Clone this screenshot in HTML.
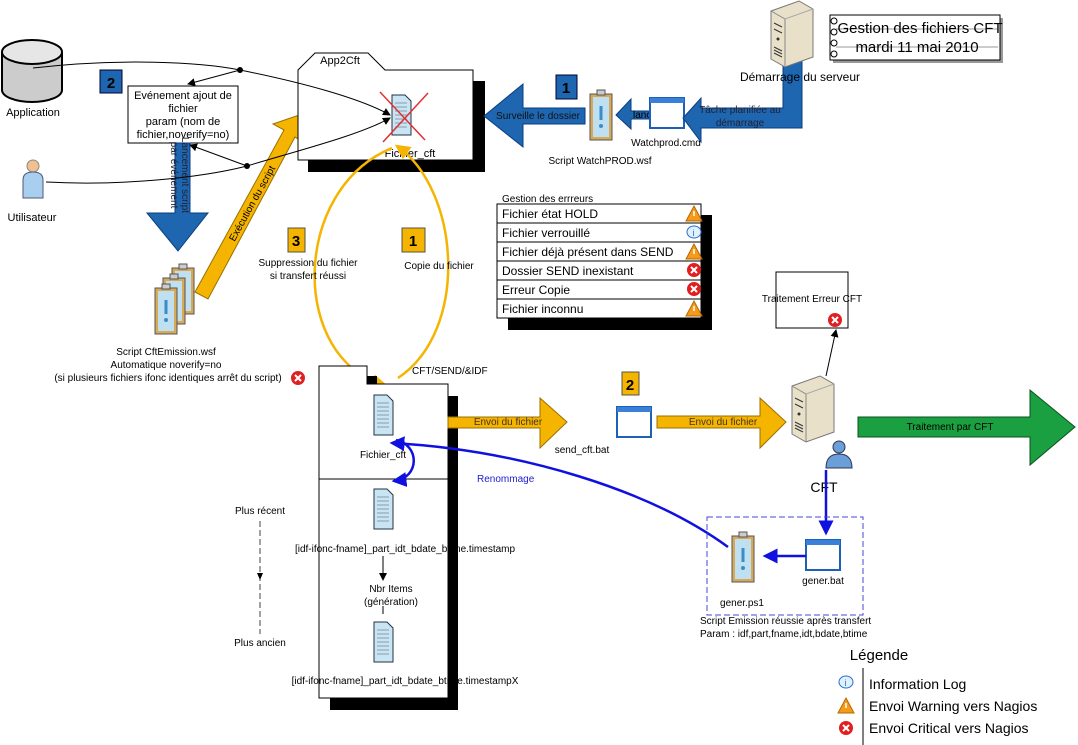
<!DOCTYPE html>
<html><head><meta charset="utf-8"><style>html,body{margin:0;padding:0;background:#fff}svg{display:block}text{font-family:"Liberation Sans",sans-serif;fill:#000}</style></head><body>
<svg width="1078" height="745" viewBox="0 0 1078 745" xmlns="http://www.w3.org/2000/svg">
<defs>
<marker id="ab" markerWidth="8" markerHeight="8" refX="7" refY="4" orient="auto"><path d="M0,0L8,4L0,8z" fill="#000"/></marker>
<marker id="abl" markerWidth="6" markerHeight="6" refX="5" refY="3" orient="auto"><path d="M0,0L6,3L0,6z" fill="#1010e0"/></marker>
<marker id="ay" markerWidth="6" markerHeight="6" refX="5" refY="3" orient="auto"><path d="M0,0L6,3L0,6z" fill="#f4b400"/></marker>
<g id="doc"><path d="M0,0h13l6,6v34h-19z" fill="#c9e4f2" stroke="#234" stroke-width="1"/><path d="M3,8h12M3,12h12M3,16h12M3,20h12M3,24h12M3,28h12M3,32h12" stroke="#456" stroke-width="0.6"/></g>
<g id="clip"><rect x="0" y="6" width="22" height="46" fill="#d9a95a" stroke="#555"/><rect x="3" y="9" width="16" height="40" fill="#bfe0f0"/><path d="M7,7v-5h8v5z" fill="#ccc" stroke="#555"/><rect x="9.5" y="18" width="3" height="14" fill="#3a8dc8"/><circle cx="11" cy="38" r="2" fill="#3a8dc8"/></g>
<g id="win"><rect x="0" y="0" width="34" height="30" fill="#fff" stroke="#1e5fb8" stroke-width="2"/><rect x="0" y="0" width="34" height="5" fill="#3a7fd8"/></g>
<g id="xr"><circle cx="0" cy="0" r="7" fill="#e02020"/><path d="M-3,-3L3,3M3,-3L-3,3" stroke="#fff" stroke-width="2"/></g>
<g id="wa"><path d="M0,-8L8,7H-8z" fill="#f59a1a" stroke="#b36a00"/><path d="M0,-3v5" stroke="#fff" stroke-width="1.5"/></g>
<g id="inf"><ellipse cx="0" cy="0" rx="7" ry="6" fill="#dff0ff" stroke="#2a6fc8"/><text x="-1.5" y="4" font-size="9" style="fill:#2a6fc8">i</text></g>
<g id="srv"><path d="M0,10L28,0L42,8V56L14,66L0,58z" fill="#e8e0c8" stroke="#777"/><path d="M0,10L14,18V66" fill="none" stroke="#888"/><path d="M14,18L42,8" stroke="#aaa" fill="none"/><path d="M3,22L11,26M3,28L11,32M3,46L11,50M3,49L11,53M3,52L11,56" stroke="#333"/><circle cx="7" cy="38" r="1.5" fill="#333"/></g>
</defs>

<!-- Application cylinder -->
<path d="M2,52v38a30,12 0 0 0 60,0v-38" fill="#ccc" stroke="#000" stroke-width="2"/>
<ellipse cx="32" cy="52" rx="30" ry="12" fill="#e6e6e6" stroke="#000" stroke-width="2"/>
<text x="33" y="116" font-size="11" text-anchor="middle">Application</text>
<!-- user -->
<circle cx="33" cy="166" r="6" fill="#f0c090" stroke="#888"/>
<path d="M23,198v-18q0,-8 10,-8q10,0 10,8v18z" fill="#a8d0ee" stroke="#557"/>
<text x="32" y="221" font-size="11" text-anchor="middle">Utilisateur</text>

<rect x="100" y="70" width="22" height="23" fill="#1e66b0" stroke="#003"/>
<text x="111" y="88" font-size="15" font-weight="bold" text-anchor="middle">2</text>
<rect x="128" y="86" width="110" height="57" fill="#fff" stroke="#000"/>
<text font-size="11" text-anchor="middle"><tspan x="183" y="99">Evénement ajout de</tspan><tspan x="183" y="112">fichier</tspan><tspan x="183" y="125">param (nom de</tspan><tspan x="183" y="138">fichier,noverify=no)</tspan></text>

<!-- blue down arrow -->
<path d="M175,143h15v70h18l-30,38l-31,-38h28z" fill="#1e66b0" stroke="#0b3d80"/>
<text transform="translate(180,175) rotate(90)" font-size="10" text-anchor="middle" style="fill:#223"><tspan x="0" y="-2">Lancement script</tspan><tspan x="0" y="9">par événement</tspan></text>

<!-- yellow exec arrow -->
<path d="M195,292L284,130L273,124L302,114L305,144L295,137L208,299z" fill="#f4b400" stroke="#9a7000"/>
<text transform="translate(255,205) rotate(-61)" font-size="10" text-anchor="middle">Exécution du script</text>

<use href="#clip" x="172" y="262"/><use href="#clip" x="163" y="272"/><use href="#clip" x="155" y="282"/>
<text font-size="10" text-anchor="middle"><tspan x="166" y="355">Script CftEmission.wsf</tspan><tspan x="166" y="368">Automatique noverify=no</tspan><tspan x="168" y="381">(si plusieurs fichiers ifonc identiques arrêt du script)</tspan></text>
<use href="#xr" x="298" y="378"/>

<!-- App2Cft folder -->
<rect x="308" y="81" width="177" height="91" fill="#000"/>
<path d="M298,70L315,53H368L385,70H473V160H298z" fill="#fff" stroke="#000"/>
<text x="340" y="64" font-size="11" text-anchor="middle">App2Cft</text>
<use href="#doc" x="392" y="95"/>
<path d="M380,92L425,140M428,93L383,142" stroke="#e03030" stroke-width="1.5"/>
<text x="410" y="157" font-size="11" text-anchor="middle">Fichier_cft</text>

<!-- connectors -->
<path d="M33,68 C120,58 200,62 240,70 C300,82 360,98 390,115" fill="none" stroke="#000" marker-end="url(#ab)"/>
<path d="M240,70L188,84" stroke="#000" marker-end="url(#ab)"/>
<circle cx="240" cy="70" r="3"/>
<path d="M46,182 C120,186 200,178 247,166 C300,150 360,135 390,118" fill="none" stroke="#000" marker-end="url(#ab)"/>
<path d="M247,166L190,145" stroke="#000" marker-end="url(#ab)"/>
<circle cx="247" cy="166" r="3"/>

<!-- surveille blue arrow -->
<path d="M585,108V124H523L523,147L484,116L523,84V108z" fill="#1e66b0" stroke="#0b3d80"/>
<text x="538" y="119" font-size="10" text-anchor="middle" style="fill:#111">Surveille le dossier</text>
<rect x="556" y="75" width="21" height="24" fill="#1e66b0" stroke="#003"/>
<text x="566" y="93" font-size="15" font-weight="bold" text-anchor="middle">1</text>
<use href="#clip" x="590" y="88"/>
<text x="600" y="164" font-size="10" text-anchor="middle">Script WatchPROD.wsf</text>
<path d="M650,111V119H631V129L616,115L631,99V111z" fill="#1e66b0" stroke="#0b3d80"/>
<text x="633" y="118" font-size="10">lance</text>
<use href="#win" x="650" y="98"/>
<text x="666" y="146" font-size="10" text-anchor="middle">Watchprod.cmd</text>
<path d="M783,55H802V128H701V142L683,118L701,98V108H783z" fill="#1e66b0" stroke="#0b3d80"/>
<text font-size="10" text-anchor="middle" style="fill:#223"><tspan x="740" y="113">Tâche planifiée au</tspan><tspan x="740" y="126">démarrage</tspan></text>
<use href="#srv" x="771" y="1"/>
<text x="800" y="81" font-size="12" text-anchor="middle">Démarrage du serveur</text>

<!-- title note -->
<rect x="833" y="18" width="170" height="45" fill="#999"/>
<rect x="830" y="15" width="170" height="45" fill="#fff" stroke="#000"/>
<path d="M836,29H998M836,47H998" stroke="#999"/>
<g fill="none" stroke="#000"><circle cx="834" cy="21" r="3"/><circle cx="834" cy="32" r="3"/><circle cx="834" cy="43" r="3"/><circle cx="834" cy="54" r="3"/></g>
<text font-size="15" text-anchor="middle"><tspan x="920" y="33">Gestion des fichiers CFT</tspan><tspan x="917" y="52">mardi 11 mai 2010</tspan></text>

<!-- yellow ellipse loop -->
<path d="M392,148 C290,190 290,360 385,385" fill="none" stroke="#f4b400" stroke-width="2.5" marker-end="url(#ay)"/>
<path d="M398,378 C470,330 460,190 397,146" fill="none" stroke="#f4b400" stroke-width="2.5" marker-end="url(#ay)"/>
<rect x="288" y="228" width="17" height="24" fill="#f4b400" stroke="#554"/>
<text x="296" y="246" font-size="15" font-weight="bold" text-anchor="middle">3</text>
<text font-size="10" text-anchor="middle"><tspan x="308" y="266">Suppression du fichier</tspan><tspan x="308" y="279">si transfert réussi</tspan></text>
<rect x="402" y="228" width="23" height="24" fill="#f4b400" stroke="#554"/>
<text x="413" y="246" font-size="15" font-weight="bold" text-anchor="middle">1</text>
<text x="439" y="269" font-size="10" text-anchor="middle">Copie du fichier</text>

<!-- errors table -->
<text x="502" y="202" font-size="10">Gestion des errreurs</text>
<rect x="508" y="215" width="204" height="115" fill="#000"/>
<g stroke="#000" fill="#fff">
<rect x="497" y="204" width="204" height="19"/><rect x="497" y="223" width="204" height="19"/><rect x="497" y="242" width="204" height="19"/><rect x="497" y="261" width="204" height="19"/><rect x="497" y="280" width="204" height="19"/><rect x="497" y="299" width="204" height="19"/></g>
<text font-size="12"><tspan x="502" y="218">Fichier état HOLD</tspan><tspan x="502" y="237">Fichier verrouillé</tspan><tspan x="502" y="256">Fichier déjà présent dans SEND</tspan><tspan x="502" y="275">Dossier SEND inexistant</tspan><tspan x="502" y="294">Erreur Copie</tspan><tspan x="502" y="313">Fichier inconnu</tspan></text>
<use href="#wa" x="694" y="214"/><use href="#inf" x="694" y="232"/><use href="#wa" x="694" y="252"/><use href="#xr" x="694" y="270"/><use href="#xr" x="694" y="289"/><use href="#wa" x="694" y="309"/>

<rect x="776" y="272" width="72" height="56" fill="#fff" stroke="#000"/>
<text x="812" y="302" font-size="10" text-anchor="middle">Traitement Erreur CFT</text>
<use href="#xr" x="835" y="320"/>
<path d="M826,376L836,330" stroke="#000" marker-end="url(#ab)"/>

<!-- CFT SEND folder -->
<rect x="330" y="396" width="128" height="314" fill="#000"/>
<path d="M319,366H367V384H448V698H319z" fill="#fff" stroke="#000"/>
<rect x="367" y="376" width="10" height="8" fill="#000"/>
<line x1="319" y1="479" x2="448" y2="479" stroke="#000"/>
<text x="412" y="374" font-size="10">CFT/SEND/&amp;IDF</text>
<use href="#doc" x="374" y="395"/>
<text x="383" y="458" font-size="10" text-anchor="middle">Fichier_cft</text>
<use href="#doc" x="374" y="489"/>
<text x="405" y="552" font-size="10" text-anchor="middle">[idf-ifonc-fname]_part_idt_bdate_btime.timestamp</text>
<path d="M383,556V580" stroke="#000" marker-end="url(#ab)"/>
<line x1="383" y1="606" x2="383" y2="614" stroke="#000"/>
<text font-size="10" text-anchor="middle"><tspan x="391" y="592">Nbr Items</tspan><tspan x="391" y="605">(génération)</tspan></text>
<use href="#doc" x="374" y="622"/>
<text x="405" y="684" font-size="10" text-anchor="middle">[idf-ifonc-fname]_part_idt_bdate_btime.timestampX</text>
<text x="260" y="514" font-size="10" text-anchor="middle">Plus récent</text>
<path d="M260,521V634" stroke="#444" stroke-dasharray="6,3"/>
<path d="M257,573L260,580L263,573z" fill="#000"/>
<text x="260" y="646" font-size="10" text-anchor="middle">Plus ancien</text>
<path d="M396,440 C420,445 420,478 394,481" fill="none" stroke="#1010e0" stroke-width="2.5" marker-end="url(#abl)"/>
<text x="477" y="482" font-size="10" style="fill:#2020d0">Renommage</text>
<path d="M728,547 C650,490 520,450 392,443" fill="none" stroke="#1010e0" stroke-width="2.5" marker-end="url(#abl)"/>

<!-- yellow send arrows -->
<path d="M448,417H540V398L567,422L540,448V428H448z" fill="#f4b400" stroke="#9a7000"/>
<text x="508" y="425" font-size="10" text-anchor="middle" style="fill:#432">Envoi du fichier</text>
<rect x="622" y="372" width="17" height="23" fill="#f4b400" stroke="#554"/>
<text x="630" y="390" font-size="15" font-weight="bold" text-anchor="middle">2</text>
<use href="#win" x="617" y="407"/>
<text x="582" y="453" font-size="10" text-anchor="middle">send_cft.bat</text>
<path d="M657,416H760V398L786,422L760,448V428H657z" fill="#f4b400" stroke="#9a7000"/>
<text x="723" y="425" font-size="10" text-anchor="middle" style="fill:#432">Envoi du fichier</text>

<!-- green -->
<path d="M858,417H1030V390L1075,427L1030,465V437H858z" fill="#1aa040" stroke="#0b5020"/>
<text x="950" y="430" font-size="10" text-anchor="middle">Traitement par CFT</text>
<use href="#srv" x="792" y="376"/>
<circle cx="839" cy="447" r="6" fill="#6a9fd8" stroke="#335"/>
<path d="M826,468q0,-14 13,-14q13,0 13,14z" fill="#6a9fd8" stroke="#335"/>
<text x="824" y="492" font-size="14" text-anchor="middle">CFT</text>
<path d="M826,470V533" stroke="#1010e0" stroke-width="2.5" marker-end="url(#abl)"/>

<rect x="707" y="517" width="156" height="98" fill="none" stroke="#4444dd" stroke-dasharray="6,3"/>
<use href="#win" x="806" y="540"/>
<text x="823" y="584" font-size="10" text-anchor="middle">gener.bat</text>
<path d="M806,556H765" stroke="#1010e0" stroke-width="2.5" marker-end="url(#abl)"/>
<use href="#clip" x="732" y="530"/>
<text x="742" y="606" font-size="10" text-anchor="middle">gener.ps1</text>
<text font-size="10"><tspan x="700" y="624">Script Emission réussie après transfert</tspan><tspan x="700" y="637">Param : idf,part,fname,idt,bdate,btime</tspan></text>

<!-- legend -->
<text x="879" y="660" font-size="15" text-anchor="middle">Légende</text>
<line x1="863" y1="668" x2="863" y2="745" stroke="#000"/>
<use href="#inf" x="846" y="682"/><use href="#wa" x="846" y="706"/><use href="#xr" x="846" y="728"/>
<text font-size="14"><tspan x="869" y="689">Information Log</tspan><tspan x="869" y="711">Envoi Warning vers Nagios</tspan><tspan x="869" y="733">Envoi Critical vers Nagios</tspan></text>
</svg>
</body></html>
